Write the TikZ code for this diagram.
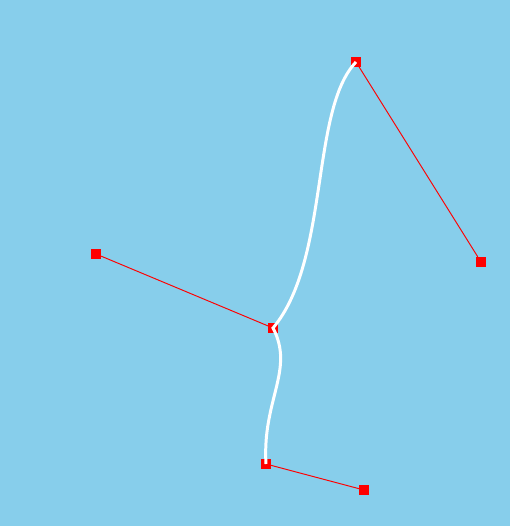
\documentclass[tikz,border=0pt]{standalone}
\definecolor{skyback}{RGB}{135,206,235}

\begin{document}
\begin{tikzpicture}[
			x=0.02cm, y=-0.02cm,
			handle/.style = {draw=red, line width=0.55pt},
			knot/.style   = {fill=red, inner sep=0pt, minimum size=0.19cm},
			spline/.style = {draw=white, line width=1.7pt}
			]
			\fill[skyback] (0,0) rectangle (510,526);
			\useasboundingbox (0,0) rectangle (510,526);
			
			%--- knots and control points ---
			\node[knot] (a)  at (266,464) {};
			\node[knot] (a1) at (364,490) {};
			
			\node[knot] (b)  at (273,328) {};
			\node[knot] (b1) at ( 96,254) {};
			
			\node[knot] (c)  at (356, 62) {};
			\node[knot] (c1) at (481,262) {};
			
			%--- handles ---
			\draw[handle] (a.center) -- (a1);
			\draw[handle] (b.center) -- (b1);
			\draw[handle] (c.center) -- (c1);
			
			%--- the curve ---
			\draw[spline] (a.center) .. controls (262,400) and (295,370) .. (b.center)
			                         .. controls (330,260) and (310,110) .. (c.center);
		\end{tikzpicture}
\end{document}
